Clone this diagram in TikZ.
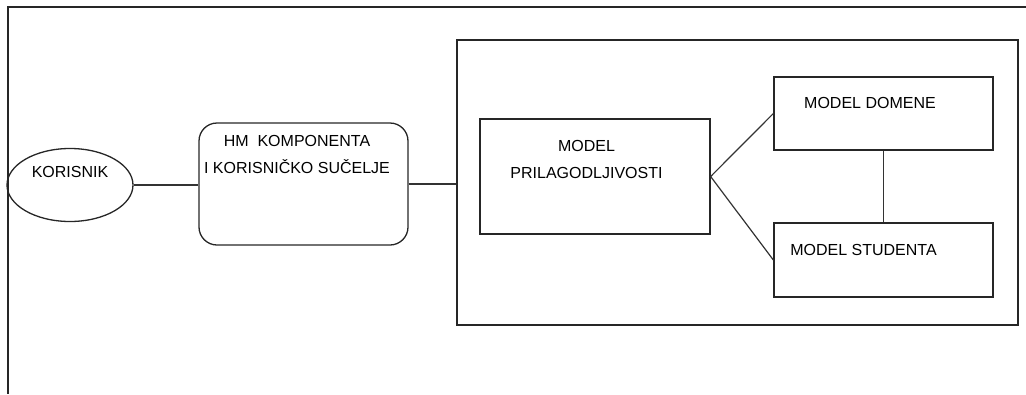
\documentclass[tikz,border=0pt]{standalone}
\usepackage{fontspec}
\setmainfont{Liberation Sans}
\usetikzlibrary{shapes.geometric}
\begin{document}
\begin{tikzpicture}[x=1pt,y=-1pt,
  every node/.style={line width=1.3pt, draw=black!85, inner sep=0pt},
  txt/.style={draw=none, align=center, font=\fontsize{16}{27}\selectfont},
  blk/.style={rectangle},
  conn/.style={line width=1.2pt, draw=black!80}]
\useasboundingbox (0,0) rectangle (1026,394);
\draw[line width=1.3pt, black!85] (1026,7) -- (8,7) -- (8,394);
\node[ellipse, minimum width=126pt, minimum height=73pt,
  label={[txt, yshift=13pt]center:KORISNIK}] (kor) at (70,185) {};
\node[blk, rounded corners=18pt, minimum width=209pt, minimum height=122pt,
  label={[txt, xshift=-6.5pt, yshift=30pt]center:HM\ \ KOMPONENTA\\I KORISNIČKO SUČELJE}] (hm) at (303.5,184) {};
\node[blk, minimum width=561pt, minimum height=285pt] (big) at (737.5,182.5) {};
\node[blk, minimum width=230pt, minimum height=115pt,
  label={[txt, xshift=-8.5pt, yshift=17pt]center:MODEL\\PRILAGODLJIVOSTI}] (mp) at (595,176.5) {};
\node[blk, minimum width=219pt, minimum height=73pt,
  label={[txt, xshift=-13.5pt, yshift=10.5pt]center:MODEL DOMENE}] (dom) at (883.5,113.5) {};
\node[blk, minimum width=219pt, minimum height=74pt,
  label={[txt, xshift=-20pt, yshift=10pt]center:MODEL STUDENTA}] (stu) at (883.5,260) {};
\draw[conn] (kor.east) -- (kor.east -| hm.west);
\draw[conn] (hm.east) -- (hm.east -| big.west);
\draw[conn] (mp.east) -- (dom.west);
\draw[conn] (mp.east) -- (stu.west);
\draw[conn] (dom.south) -- (stu.north);
\end{tikzpicture}
\end{document}
